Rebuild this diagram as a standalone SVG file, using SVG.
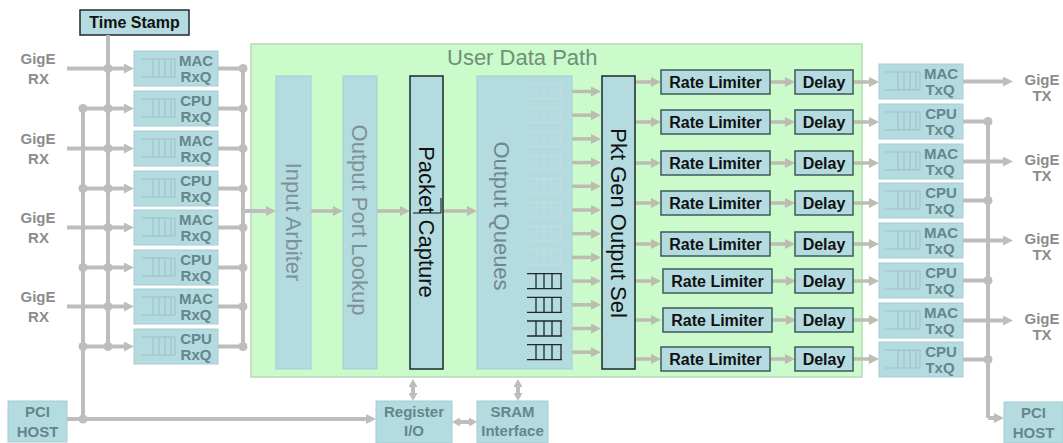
<svg xmlns="http://www.w3.org/2000/svg" width="1063" height="443" viewBox="0 0 1063 443">
<style>
.bx{fill:#b4dbe0;stroke:#a6ccd2;stroke-width:1}
.bk{fill:#b4dbe0;stroke:#1e2a2a;stroke-width:1.5}
.rl{fill:#b4dbe0;stroke:#3e5a5a;stroke-width:1.5}
.q{font-family:"Liberation Sans",Arial,sans-serif;font-weight:bold;font-size:15px;fill:#66868c;text-anchor:middle}
.g{font-family:"Liberation Sans",Arial,sans-serif;font-weight:bold;font-size:15px;fill:#8c8c8c;text-anchor:middle}
.b{font-family:"Liberation Sans",Arial,sans-serif;font-weight:bold;font-size:16px;fill:#111;text-anchor:middle}
.v{font-family:"Liberation Sans",Arial,sans-serif;font-size:22px;text-anchor:middle}
.c{fill:none;stroke:#bdbdbd;stroke-width:4}
.ci{fill:none;stroke:#bcbcb0;stroke-width:3.5}
.d{fill:#bdbdbd}
.gl{fill:none;stroke:#9cbfc5;stroke-width:1}
.gd{fill:none;stroke:#1e2a2a;stroke-width:1.3}
.gf{fill:none;stroke:#c8dde0;stroke-width:1}
</style>
<defs>
<marker id="ah" viewBox="0 0 10 10" refX="0" refY="5" markerWidth="10" markerHeight="10" markerUnits="userSpaceOnUse" orient="auto"><path d="M0,0 L10,5 L0,10 z" fill="#bdbdbd"/></marker>
<marker id="ai" viewBox="0 0 10 10" refX="0" refY="5" markerWidth="10" markerHeight="10" markerUnits="userSpaceOnUse" orient="auto"><path d="M0,0 L10,5 L0,10 z" fill="#bcbcb0"/></marker>
<marker id="a2" viewBox="0 0 8 9" refX="0" refY="4.5" markerWidth="8" markerHeight="9" markerUnits="userSpaceOnUse" orient="auto-start-reverse"><path d="M0,0 L8,4.5 L0,9 z" fill="#bdbdbd"/></marker>
</defs>
<rect width="1063" height="443" fill="#ffffff"/>

<g id="user-data-path">
<rect x="251" y="44" width="611" height="333" fill="#cbfbcb" stroke="#b9d9b9" stroke-width="1.5"/>
<text x="447" y="65" font-family="'Liberation Sans',Arial,sans-serif" font-size="22" fill="#6f8f78">User Data Path</text>
</g>

<g id="time-stamp">
<rect x="80" y="10" width="109" height="25" fill="#b4dbe0" stroke="#1e2a2a" stroke-width="1.5"/>
<text class="b" x="134.5" y="28">Time Stamp</text>
</g>

<g id="connectors">
<path class="c" d="M108,35 V346.5"/>
<path class="c" d="M83,108.5 V419"/>
<path class="c" d="M67,68.5 H124" marker-end="url(#ah)"/>
<path class="c" d="M67,148.5 H124" marker-end="url(#ah)"/>
<path class="c" d="M67,227.5 H124" marker-end="url(#ah)"/>
<path class="c" d="M67,306.5 H124" marker-end="url(#ah)"/>
<path class="c" d="M83,108.5 H124" marker-end="url(#ah)"/>
<path class="c" d="M83,188.5 H124" marker-end="url(#ah)"/>
<path class="c" d="M83,267.5 H124" marker-end="url(#ah)"/>
<path class="c" d="M83,346.5 H124" marker-end="url(#ah)"/>
<path class="c" d="M218,68.5 H243 M218,108.5 H243 M218,148.5 H243 M218,188.5 H243 M218,227.5 H243 M218,267.5 H243 M218,306.5 H243 M218,346.5 H243 M243,68.5 V346.5"/>
<path class="c" d="M243,211 H266" marker-end="url(#ah)"/>
<path class="c" d="M67,419 H366" marker-end="url(#ah)"/>
<g class="d">
<circle cx="108" cy="68.5" r="4.5"/><circle cx="108" cy="108.5" r="4.5"/><circle cx="108" cy="148.5" r="4.5"/><circle cx="108" cy="188.5" r="4.5"/><circle cx="108" cy="227.5" r="4.5"/><circle cx="108" cy="267.5" r="4.5"/><circle cx="108" cy="306.5" r="4.5"/><circle cx="108" cy="346.5" r="4.5"/>
<circle cx="83" cy="108.5" r="4.5"/><circle cx="83" cy="188.5" r="4.5"/><circle cx="83" cy="267.5" r="4.5"/><circle cx="83" cy="346.5" r="4.5"/><circle cx="83" cy="419" r="4.5"/>
<circle cx="243" cy="68.5" r="4.5"/><circle cx="243" cy="108.5" r="4.5"/><circle cx="243" cy="148.5" r="4.5"/><circle cx="243" cy="188.5" r="4.5"/><circle cx="243" cy="227.5" r="4.5"/><circle cx="243" cy="267.5" r="4.5"/><circle cx="243" cy="306.5" r="4.5"/><circle cx="243" cy="346.5" r="4.5"/>
</g>
<path class="ci" d="M311,211 H333" marker-end="url(#ai)"/>
<path class="ci" d="M377,211 H400" marker-end="url(#ai)"/>
<path class="ci" d="M443,211 H467" marker-end="url(#ai)"/>
<g class="ci">
<path d="M572,91.5 H591" marker-end="url(#ai)"/>
<path d="M572,115.2 H591" marker-end="url(#ai)"/>
<path d="M572,138.9 H591" marker-end="url(#ai)"/>
<path d="M572,162.6 H591" marker-end="url(#ai)"/>
<path d="M572,186.3 H591" marker-end="url(#ai)"/>
<path d="M572,210 H591" marker-end="url(#ai)"/>
<path d="M572,233.7 H591" marker-end="url(#ai)"/>
<path d="M572,257.4 H591" marker-end="url(#ai)"/>
<path d="M572,281.1 H591" marker-end="url(#ai)"/>
<path d="M572,304.8 H591" marker-end="url(#ai)"/>
<path d="M572,328.5 H591" marker-end="url(#ai)"/>
<path d="M572,352.2 H591" marker-end="url(#ai)"/>
</g>
<g class="ci">
<path d="M635,82 H651" marker-end="url(#ai)"/>
<path d="M635,122 H651" marker-end="url(#ai)"/>
<path d="M635,163 H651" marker-end="url(#ai)"/>
<path d="M635,203 H651" marker-end="url(#ai)"/>
<path d="M635,244 H651" marker-end="url(#ai)"/>
<path d="M635,281 H651" marker-end="url(#ai)"/>
<path d="M635,320 H651" marker-end="url(#ai)"/>
<path d="M635,359 H651" marker-end="url(#ai)"/>
<path d="M770,82 H785" marker-end="url(#ai)"/>
<path d="M770,122 H785" marker-end="url(#ai)"/>
<path d="M770,163 H785" marker-end="url(#ai)"/>
<path d="M770,203 H785" marker-end="url(#ai)"/>
<path d="M770,244 H785" marker-end="url(#ai)"/>
<path d="M772,281 H786" marker-end="url(#ai)"/>
<path d="M772,320 H786" marker-end="url(#ai)"/>
<path d="M770,359 H785" marker-end="url(#ai)"/>
<path d="M853,82 H869" marker-end="url(#ai)"/>
<path d="M853,122 H869" marker-end="url(#ai)"/>
<path d="M853,163 H869" marker-end="url(#ai)"/>
<path d="M853,203 H869" marker-end="url(#ai)"/>
<path d="M853,244 H869" marker-end="url(#ai)"/>
<path d="M853,281 H869" marker-end="url(#ai)"/>
<path d="M853,320 H869" marker-end="url(#ai)"/>
<path d="M853,359 H869" marker-end="url(#ai)"/>
</g>
<path class="c" d="M963,81.5 H1003" marker-end="url(#ah)"/>
<path class="c" d="M963,161.5 H1003" marker-end="url(#ah)"/>
<path class="c" d="M963,240.5 H1003" marker-end="url(#ah)"/>
<path class="c" d="M963,320.5 H1003" marker-end="url(#ah)"/>
<path class="c" d="M963,121.5 H988 M963,200.5 H988 M963,280.5 H988 M963,359.5 H988 M988,121.5 V418"/>
<path class="c" d="M988,418 H994" marker-end="url(#ah)"/>
<g class="d">
<circle cx="988" cy="121.5" r="4.5"/><circle cx="988" cy="200.5" r="4.5"/><circle cx="988" cy="280.5" r="4.5"/><circle cx="988" cy="359.5" r="4.5"/>
</g>
<path class="c" d="M413,387 V393" marker-start="url(#a2)" marker-end="url(#a2)"/>
<path class="c" d="M518,387 V393" marker-start="url(#a2)" marker-end="url(#a2)"/>
<path class="c" d="M460,422 H469" marker-start="url(#a2)" marker-end="url(#a2)"/>
</g>

<g id="gige-rx-labels">
<text class="g" x="38" y="64">GigE</text><text class="g" x="38.5" y="84">RX</text>
<text class="g" x="38" y="144">GigE</text><text class="g" x="38.5" y="164">RX</text>
<text class="g" x="38" y="223">GigE</text><text class="g" x="38.5" y="243">RX</text>
<text class="g" x="38" y="302">GigE</text><text class="g" x="38.5" y="322">RX</text>
</g>

<g id="rxq">
<g id="rxq-1"><rect class="bx" x="134" y="51" width="84" height="35"/><path class="gl" d="M142,59 H175 M142,77 H175 M153,59 V77 M159,59 V77 M165,59 V77 M171,59 V77 M175,59 V77"/><text class="q" x="196" y="66">MAC</text><text class="q" x="196" y="82">RxQ</text></g>
<g id="rxq-2"><rect class="bx" x="134" y="91" width="84" height="35"/><path class="gl" d="M142,99 H175 M142,117 H175 M153,99 V117 M159,99 V117 M165,99 V117 M171,99 V117 M175,99 V117"/><text class="q" x="196" y="106">CPU</text><text class="q" x="196" y="122">RxQ</text></g>
<g id="rxq-3"><rect class="bx" x="134" y="131" width="84" height="35"/><path class="gl" d="M142,139 H175 M142,157 H175 M153,139 V157 M159,139 V157 M165,139 V157 M171,139 V157 M175,139 V157"/><text class="q" x="196" y="146">MAC</text><text class="q" x="196" y="162">RxQ</text></g>
<g id="rxq-4"><rect class="bx" x="134" y="171" width="84" height="35"/><path class="gl" d="M142,179 H175 M142,197 H175 M153,179 V197 M159,179 V197 M165,179 V197 M171,179 V197 M175,179 V197"/><text class="q" x="196" y="186">CPU</text><text class="q" x="196" y="202">RxQ</text></g>
<g id="rxq-5"><rect class="bx" x="134" y="210" width="84" height="35"/><path class="gl" d="M142,218 H175 M142,236 H175 M153,218 V236 M159,218 V236 M165,218 V236 M171,218 V236 M175,218 V236"/><text class="q" x="196" y="225">MAC</text><text class="q" x="196" y="241">RxQ</text></g>
<g id="rxq-6"><rect class="bx" x="134" y="250" width="84" height="35"/><path class="gl" d="M142,258 H175 M142,276 H175 M153,258 V276 M159,258 V276 M165,258 V276 M171,258 V276 M175,258 V276"/><text class="q" x="196" y="265">CPU</text><text class="q" x="196" y="281">RxQ</text></g>
<g id="rxq-7"><rect class="bx" x="134" y="289" width="84" height="35"/><path class="gl" d="M142,297 H175 M142,315 H175 M153,297 V315 M159,297 V315 M165,297 V315 M171,297 V315 M175,297 V315"/><text class="q" x="196" y="304">MAC</text><text class="q" x="196" y="320">RxQ</text></g>
<g id="rxq-8"><rect class="bx" x="134" y="329" width="84" height="35"/><path class="gl" d="M142,337 H175 M142,355 H175 M153,337 V355 M159,337 V355 M165,337 V355 M171,337 V355 M175,337 V355"/><text class="q" x="196" y="344">CPU</text><text class="q" x="196" y="360">RxQ</text></g>
</g>

<g id="input-arbiter">
<rect class="bx" x="276" y="76" width="35" height="293"/>
<text class="v" fill="#7d9296" transform="translate(293.5,222) rotate(90)" y="8">Input Arbiter</text>
</g>
<g id="output-port-lookup">
<rect class="bx" x="343" y="76" width="34" height="293"/>
<text class="v" fill="#7d9296" transform="translate(360,220) rotate(90)" y="8">Output Port Lookup</text>
</g>
<g id="packet-capture">
<rect class="bk" x="410" y="76" width="33" height="293"/>
<text class="v" fill="#111" transform="translate(426.5,222) rotate(90)" y="8">Packet Capture</text>
<path d="M413,213 H441 M441,198 V213" stroke="#111" stroke-width="1" fill="none"/>
</g>
<g id="output-queues">
<rect class="bx" x="477" y="76" width="95" height="293"/>
<text class="v" fill="#71878c" transform="translate(502,216) rotate(90)" y="8">Output Queues</text>
<g class="gf">
<path d="M527,84 H562 M527,99 H562 M536,84 V99 M544,84 V99 M552,84 V99 M561,84 V99"/>
<path d="M527,107.7 H562 M527,122.7 H562 M536,107.7 V122.7 M544,107.7 V122.7 M552,107.7 V122.7 M561,107.7 V122.7"/>
<path d="M527,131.4 H562 M527,146.4 H562 M536,131.4 V146.4 M544,131.4 V146.4 M552,131.4 V146.4 M561,131.4 V146.4"/>
<path d="M527,155.1 H562 M527,170.1 H562 M536,155.1 V170.1 M544,155.1 V170.1 M552,155.1 V170.1 M561,155.1 V170.1"/>
<path d="M527,178.8 H562 M527,193.8 H562 M536,178.8 V193.8 M544,178.8 V193.8 M552,178.8 V193.8 M561,178.8 V193.8"/>
<path d="M527,202.5 H562 M527,217.5 H562 M536,202.5 V217.5 M544,202.5 V217.5 M552,202.5 V217.5 M561,202.5 V217.5"/>
<path d="M527,226.2 H562 M527,241.2 H562 M536,226.2 V241.2 M544,226.2 V241.2 M552,226.2 V241.2 M561,226.2 V241.2"/>
<path d="M527,249.9 H562 M527,264.9 H562 M536,249.9 V264.9 M544,249.9 V264.9 M552,249.9 V264.9 M561,249.9 V264.9"/>
</g>
<g class="gd">
<path d="M527,273.6 H562 M527,288.6 H562 M536,273.6 V288.6 M544,273.6 V288.6 M552,273.6 V288.6 M561,273.6 V288.6"/>
<path d="M527,297.3 H562 M527,312.3 H562 M536,297.3 V312.3 M544,297.3 V312.3 M552,297.3 V312.3 M561,297.3 V312.3"/>
<path d="M527,321 H562 M527,336 H562 M536,321 V336 M544,321 V336 M552,321 V336 M561,321 V336"/>
<path d="M527,344.7 H562 M527,359.7 H562 M536,344.7 V359.7 M544,344.7 V359.7 M552,344.7 V359.7 M561,344.7 V359.7"/>
</g>
</g>
<g id="pkt-gen-output-sel">
<rect class="bk" x="602" y="76" width="33" height="293"/>
<text class="v" fill="#111" transform="translate(618.5,223) rotate(90)" y="8">Pkt Gen Output Sel</text>
</g>

<g id="rate-limiters">
<g id="rl-1"><rect class="rl" x="661" y="70" width="109" height="24"/><text class="b" x="715.5" y="88">Rate Limiter</text></g>
<g id="rl-2"><rect class="rl" x="661" y="110" width="109" height="24"/><text class="b" x="715.5" y="128">Rate Limiter</text></g>
<g id="rl-3"><rect class="rl" x="661" y="151" width="109" height="24"/><text class="b" x="715.5" y="169">Rate Limiter</text></g>
<g id="rl-4"><rect class="rl" x="661" y="191" width="109" height="24"/><text class="b" x="715.5" y="209">Rate Limiter</text></g>
<g id="rl-5"><rect class="rl" x="661" y="232" width="109" height="24"/><text class="b" x="715.5" y="250">Rate Limiter</text></g>
<g id="rl-6"><rect class="rl" x="663" y="269" width="109" height="24"/><text class="b" x="717.5" y="287">Rate Limiter</text></g>
<g id="rl-7"><rect class="rl" x="663" y="308" width="109" height="24"/><text class="b" x="717.5" y="326">Rate Limiter</text></g>
<g id="rl-8"><rect class="rl" x="661" y="347" width="109" height="24"/><text class="b" x="715.5" y="365">Rate Limiter</text></g>
</g>
<g id="delays">
<g id="dl-1"><rect class="rl" x="795" y="70" width="58" height="24"/><text class="b" x="824" y="88">Delay</text></g>
<g id="dl-2"><rect class="rl" x="795" y="110" width="58" height="24"/><text class="b" x="824" y="128">Delay</text></g>
<g id="dl-3"><rect class="rl" x="795" y="151" width="58" height="24"/><text class="b" x="824" y="169">Delay</text></g>
<g id="dl-4"><rect class="rl" x="795" y="191" width="58" height="24"/><text class="b" x="824" y="209">Delay</text></g>
<g id="dl-5"><rect class="rl" x="795" y="232" width="58" height="24"/><text class="b" x="824" y="250">Delay</text></g>
<g id="dl-6"><rect class="rl" x="795" y="269" width="58" height="24"/><text class="b" x="824" y="287">Delay</text></g>
<g id="dl-7"><rect class="rl" x="795" y="308" width="58" height="24"/><text class="b" x="824" y="326">Delay</text></g>
<g id="dl-8"><rect class="rl" x="795" y="347" width="58" height="24"/><text class="b" x="824" y="365">Delay</text></g>
</g>

<g id="txq">
<g id="txq-1"><rect class="bx" x="879" y="64" width="84" height="35"/><path class="gl" d="M885,72 H920 M885,90 H920 M898,72 V90 M904,72 V90 M910,72 V90 M916,72 V90 M920,72 V90"/><text class="q" x="941" y="79">MAC</text><text class="q" x="940" y="95">TxQ</text></g>
<g id="txq-2"><rect class="bx" x="879" y="104" width="84" height="35"/><path class="gl" d="M885,112 H920 M885,130 H920 M898,112 V130 M904,112 V130 M910,112 V130 M916,112 V130 M920,112 V130"/><text class="q" x="941" y="119">CPU</text><text class="q" x="940" y="135">TxQ</text></g>
<g id="txq-3"><rect class="bx" x="879" y="144" width="84" height="35"/><path class="gl" d="M885,152 H920 M885,170 H920 M898,152 V170 M904,152 V170 M910,152 V170 M916,152 V170 M920,152 V170"/><text class="q" x="941" y="159">MAC</text><text class="q" x="940" y="175">TxQ</text></g>
<g id="txq-4"><rect class="bx" x="879" y="183" width="84" height="35"/><path class="gl" d="M885,191 H920 M885,209 H920 M898,191 V209 M904,191 V209 M910,191 V209 M916,191 V209 M920,191 V209"/><text class="q" x="941" y="198">CPU</text><text class="q" x="940" y="214">TxQ</text></g>
<g id="txq-5"><rect class="bx" x="879" y="223" width="84" height="35"/><path class="gl" d="M885,231 H920 M885,249 H920 M898,231 V249 M904,231 V249 M910,231 V249 M916,231 V249 M920,231 V249"/><text class="q" x="941" y="238">MAC</text><text class="q" x="940" y="254">TxQ</text></g>
<g id="txq-6"><rect class="bx" x="879" y="263" width="84" height="35"/><path class="gl" d="M885,271 H920 M885,289 H920 M898,271 V289 M904,271 V289 M910,271 V289 M916,271 V289 M920,271 V289"/><text class="q" x="941" y="278">CPU</text><text class="q" x="940" y="294">TxQ</text></g>
<g id="txq-7"><rect class="bx" x="879" y="303" width="84" height="35"/><path class="gl" d="M885,311 H920 M885,329 H920 M898,311 V329 M904,311 V329 M910,311 V329 M916,311 V329 M920,311 V329"/><text class="q" x="941" y="318">MAC</text><text class="q" x="940" y="334">TxQ</text></g>
<g id="txq-8"><rect class="bx" x="879" y="342" width="84" height="35"/><path class="gl" d="M885,350 H920 M885,368 H920 M898,350 V368 M904,350 V368 M910,350 V368 M916,350 V368 M920,350 V368"/><text class="q" x="941" y="357">CPU</text><text class="q" x="940" y="373">TxQ</text></g>
</g>

<g id="gige-tx-labels">
<text class="g" x="1042" y="85">GigE</text><text class="g" x="1042" y="101">TX</text>
<text class="g" x="1042" y="165">GigE</text><text class="g" x="1042" y="181">TX</text>
<text class="g" x="1042" y="244">GigE</text><text class="g" x="1042" y="260">TX</text>
<text class="g" x="1042" y="324">GigE</text><text class="g" x="1042" y="340">TX</text>
</g>

<g id="pci-host-left">
<rect class="bx" x="8" y="401" width="59" height="41"/>
<text class="q" fill="#7d9ba0" x="37.5" y="417">PCI</text><text class="q" fill="#7d9ba0" x="37.5" y="437">HOST</text>
</g>
<g id="register-io">
<rect class="bx" x="376" y="401" width="76" height="42"/>
<text class="q" x="414" y="417">Register</text><text class="q" x="414" y="436">I/O</text>
</g>
<g id="sram-interface">
<rect class="bx" x="477" y="401" width="71" height="42"/>
<text class="q" x="512.5" y="417">SRAM</text><text class="q" x="512.5" y="436">Interface</text>
</g>
<g id="pci-host-right">
<rect class="bx" x="1004" y="402" width="59" height="41"/>
<text class="q" fill="#7d9ba0" x="1033.5" y="418">PCI</text><text class="q" fill="#7d9ba0" x="1033.5" y="438">HOST</text>
</g>
</svg>
